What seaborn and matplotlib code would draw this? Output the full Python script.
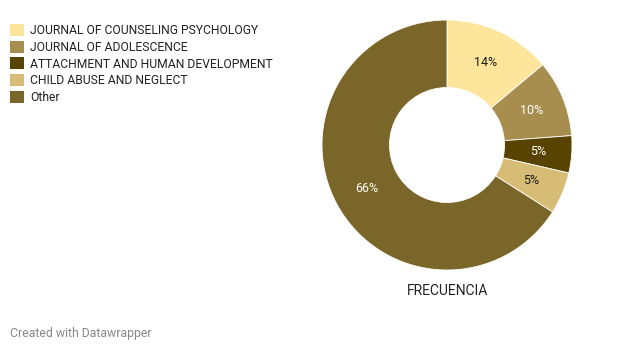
import matplotlib
matplotlib.use("Agg")
import matplotlib.pyplot as plt
import seaborn as sns
from matplotlib.patches import Patch

# datos (porcentajes)
revistas = ["JOURNAL OF COUNSELING PSYCHOLOGY", "JOURNAL OF ADOLESCENCE",
            "ATTACHMENT AND HUMAN DEVELOPMENT", "CHILD ABUSE AND NEGLECT", "Other"]
frecuencia = [13.9, 9.9, 4.8, 5.4, 66.0]
colores = ["#fde59c", "#a88e4e", "#584400", "#d6bc74", "#7a6629"]
color_texto = ["#1a1a1a", "white", "white", "#1a1a1a", "white"]

sns.set_theme(style="white")
plt.rcParams["font.family"] = ["Roboto", "DejaVu Sans"]

W, H = 623, 351
fig = plt.figure(figsize=(W / 100, H / 100), dpi=100)

# dona centrada en (447, 145) px con radio 125 px
cx, cy, r = 447, 145, 125
ax = fig.add_axes([(cx - r) / W, (H - cy - r) / H, 2 * r / W, 2 * r / H])
wedges, textos, autotextos = ax.pie(
    frecuencia, colors=colores, startangle=90, counterclock=False,
    autopct="%.0f%%", pctdistance=0.73,
    wedgeprops=dict(width=0.54, edgecolor="white", linewidth=0.6),
    textprops=dict(fontsize=9),
)
for t, c in zip(autotextos, color_texto):
    t.set_color(c)
ax.set_xlim(-1, 1)
ax.set_ylim(-1, 1)
ax.set_aspect("equal")

ax.text(0, -1.17, "FRECUENCIA", ha="center", va="center", fontsize=10, color="#222222")

handles = [Patch(facecolor=c, edgecolor="none") for c in colores]
fig.legend(handles, revistas, loc="upper left",
           bbox_to_anchor=(10 / W, 1 - 24 / H), frameon=False,
           fontsize=8.7, borderpad=0, borderaxespad=0,
           handlelength=1.15, handleheight=1.15, handletextpad=0.5,
           labelspacing=0.3, labelcolor="#222222")

fig.text(10 / W, 1 - 333 / H, "Created with Datawrapper", ha="left", va="center",
         fontsize=8.8, color="#888888")

fig.savefig("out.png", dpi=100)
